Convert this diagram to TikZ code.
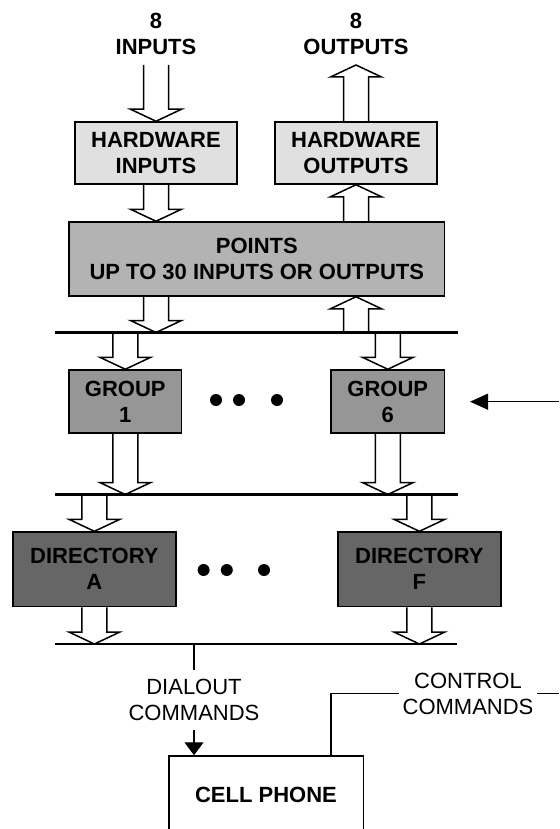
\documentclass[tikz,border=0pt]{standalone}
\usepackage{fontspec}
\setmainfont{Liberation Sans}
\usetikzlibrary{calc,arrows.meta}
\definecolor{hwgray}{RGB}{224,224,224}
\definecolor{ptgray}{RGB}{179,179,179}
\definecolor{grpgray}{RGB}{150,150,150}
\definecolor{dirgray}{RGB}{102,102,102}
\tikzset{
  box/.style={draw, line width=1.5pt, align=center, inner sep=0pt,
    font=\fontsize{22}{26}\selectfont\bfseries},
  lbl/.style={align=center, inner sep=0pt, font=\fontsize{22}{26}\selectfont\bfseries},
  cmd/.style={align=center, fill=white, inner xsep=3.5pt, inner ysep=9pt,
    font=\fontsize{22}{26}\selectfont},
  fat/.style={line width=1.5pt},
  bus/.style={line width=2.5pt},
  wire/.style={line width=1.3pt}
}
\newcommand{\fatarrow}[2]{%
  \draw[fat] let \p1=#1, \p2=#2, \p3=($#2!12pt!#1$) in
    (\x1-12.5pt,\y1) -- (\x1-12.5pt,\y3) -- (\x1-25.5pt,\y3) -- (\x1,\y2)
    -- (\x1+25.5pt,\y3) -- (\x1+12.5pt,\y3) -- (\x1+12.5pt,\y1);}
\begin{document}
\begin{tikzpicture}[x=1pt,y=-1pt]
  \useasboundingbox (0,0) rectangle (559,829);
  \clip (0,0) rectangle (559,829);

  \node[lbl] (inlbl) at (156,33.5) {8\\INPUTS};
  \node[lbl] (outlbl) at (356,33.5) {8\\OUTPUTS};
  \coordinate (intop) at (156,65);
  \coordinate (outtop) at (356,65);

  \node[box, fill=hwgray, minimum width=162, minimum height=62] (hwin) at (156,153) {HARDWARE\\INPUTS};
  \node[box, fill=hwgray, minimum width=162, minimum height=62] (hwout) at (356,153) {HARDWARE\\OUTPUTS};
  \node[box, fill=ptgray, minimum width=375.6, minimum height=74] (pts) at (256.8,259) {POINTS\\UP TO 30 INPUTS OR OUTPUTS};
  \node[box, fill=grpgray, minimum width=112.5, minimum height=63] (grp1) at (125.3,401.5) {GROUP\\1};
  \node[box, fill=grpgray, minimum width=113.6, minimum height=63] (grp6) at (387.8,401.5) {GROUP\\6};
  \node[box, fill=dirgray, minimum width=162.7, minimum height=74.5] (dira) at (94.4,569.3) {DIRECTORY\\A};
  \node[box, fill=dirgray, minimum width=162.7, minimum height=74.5] (dirf) at (419.4,569.3) {DIRECTORY\\F};
  \node[box, fill=white, minimum width=194.5, minimum height=78] (cell) at (266,795) {CELL PHONE};

  \coordinate (bus1w) at (55,332.5);
  \coordinate (bus1e) at (458,332.5);
  \coordinate (bus2w) at (55,494.5);
  \coordinate (bus2e) at (458,494.5);
  \coordinate (bus3w) at (55,644);
  \coordinate (bus3e) at (457,644);
  \draw[bus] (bus1w) -- (bus1e);
  \draw[bus] (bus2w) -- (bus2e);
  \draw[bus] (bus3w) -- (bus3e);

  \fatarrow{(intop)}{(hwin.north)}
  \fatarrow{(hwout.north)}{(outtop)}
  \fatarrow{(hwin.south)}{(hwin.south |- pts.north)}
  \fatarrow{(hwout.south |- pts.north)}{(hwout.south)}
  \fatarrow{(hwin.south |- pts.south)}{(hwin.south |- bus1w)}
  \fatarrow{(hwout.south |- bus1w)}{(hwout.south |- pts.south)}
  \fatarrow{(grp1.north |- bus1w)}{(grp1.north)}
  \fatarrow{(grp6.north |- bus1w)}{(grp6.north)}
  \fatarrow{(grp1.south)}{(grp1.south |- bus2w)}
  \fatarrow{(grp6.south)}{(grp6.south |- bus2w)}
  \fatarrow{(dira.north |- bus2w)}{(dira.north)}
  \fatarrow{(dirf.north |- bus2w)}{(dirf.north)}
  \fatarrow{(dira.south)}{(dira.south |- bus3w)}
  \fatarrow{(dirf.south)}{(dirf.south |- bus3w)}

  \foreach \x in {216,239,277}
  {\fill (\x,400) circle (6pt);}
  \foreach \x in {203.6,226.8,264}
  {\fill (\x,570) circle (6pt);}

  \coordinate (grpin) at (559,401.7);
  \draw[wire, -{Triangle[length=18pt,width=16pt]}, shorten >=24.7pt] (grpin) -- (grp6.east |- grpin);

  \node[cmd] (dial) at (194,700) {DIALOUT\\COMMANDS};
  \draw[wire] (dial.north |- bus3w) -- (dial.north);
  \draw[wire, -{Triangle[length=13pt,width=19pt]}] (dial.south) -- (dial.south |- cell.north);

  \node[cmd] (ctl) at (468,693.5) {CONTROL\\COMMANDS};
  \coordinate (ctlend) at (559,693.5);
  \draw[wire] ([xshift=65pt]cell.north) |- (ctl.west);
  \draw[wire] (ctl.east) -- (ctlend);
\end{tikzpicture}
\end{document}
